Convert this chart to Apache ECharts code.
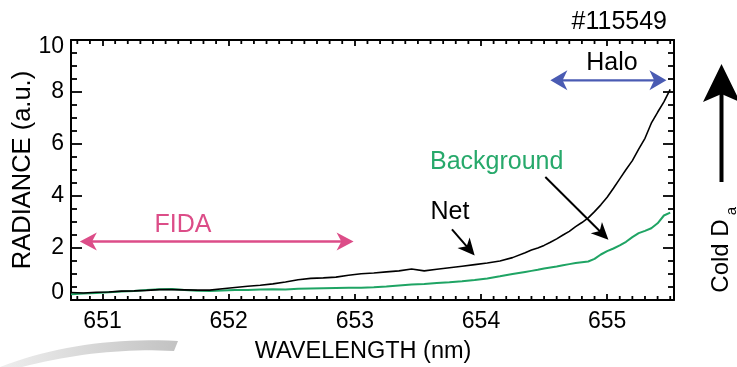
<!DOCTYPE html>
<html>
<head>
<meta charset="utf-8">
<script src="https://cdn.jsdelivr.net/npm/echarts@6/dist/echarts.min.js"></script>
<style>
  html, body { margin: 0; padding: 0; background: #fff; }
  #chart { width: 737px; height: 367px; }
</style>
</head>
<body>
<div id="chart"></div>
<script>
// Spectral grid (nm): 0.1 nm steps in the flat part, 0.05 nm near the cold D-alpha edge
const wavelength = [
  650.75, 650.85, 650.95, 651.05, 651.15, 651.25, 651.35, 651.45, 651.55, 651.65,
  651.75, 651.85, 651.95, 652.05, 652.15, 652.25, 652.35, 652.45, 652.55, 652.65,
  652.75, 652.85, 652.95, 653.05, 653.15, 653.25, 653.35, 653.45, 653.55, 653.65,
  653.75, 653.85, 653.95, 654.05, 654.15, 654.25, 654.35,
  654.40, 654.45, 654.50, 654.55, 654.60, 654.65, 654.70, 654.75, 654.80, 654.85,
  654.90, 654.95, 655.00, 655.05, 655.10, 655.15, 655.20, 655.25, 655.30, 655.35,
  655.40, 655.45, 655.50
];

// Net radiance (a.u.)
const netRadiance = [
  0.29, 0.27, 0.30, 0.31, 0.34, 0.35, 0.37, 0.40, 0.40, 0.39,
  0.38, 0.38, 0.43, 0.48, 0.53, 0.57, 0.62, 0.69, 0.78, 0.83,
  0.85, 0.88, 0.95, 1.01, 1.04, 1.08, 1.12, 1.19, 1.12, 1.18,
  1.24, 1.30, 1.36, 1.42, 1.50, 1.63, 1.82,
  1.92, 2.00, 2.10, 2.22, 2.35, 2.50, 2.64, 2.82, 2.98, 3.16,
  3.40, 3.66, 3.95, 4.30, 4.66, 5.02, 5.36, 5.80, 6.22, 6.80,
  7.22, 7.62, 8.10
];

// Background radiance (a.u.)
const backgroundRadiance = [
  0.22, 0.25, 0.27, 0.30, 0.33, 0.35, 0.38, 0.41, 0.42, 0.38,
  0.36, 0.35, 0.37, 0.38, 0.38, 0.40, 0.41, 0.40, 0.43, 0.44,
  0.45, 0.46, 0.47, 0.47, 0.49, 0.52, 0.56, 0.60, 0.62, 0.65,
  0.68, 0.72, 0.77, 0.83, 0.91, 1.00, 1.08,
  1.12, 1.16, 1.21, 1.25, 1.29, 1.34, 1.38, 1.42, 1.45, 1.48,
  1.58, 1.75, 1.88, 1.98, 2.10, 2.24, 2.42, 2.57, 2.66, 2.76,
  2.95, 3.25, 3.36
];

// Axis ranges and tick labels
const xRange = [650.75, 655.53];
const xMajorTicks = [651, 652, 653, 654, 655];
const yRange = [0, 10];
const yTickStep = 2;

// Spectral regions and pointer arrows, in data coordinates [nm, a.u.] (arrow tips)
const fidaSpan = [[650.82, 2.25], [652.99, 2.25]];
const haloSpan = [[654.55, 8.45], [655.47, 8.45]];
const netPointer = [[653.77, 2.72], [653.95, 1.71]];
const backgroundPointer = [[654.51, 4.73], [655.01, 2.32]];

// 0.1 nm minor tick positions along the wavelength axis
const xMinorTicks = [];
for (let i = 6508; i <= 6555; i++) {
  if (i % 10 !== 0) xMinorTicks.push(i / 10);
}

const FONT = '"Liberation Sans", Arial, Helvetica, sans-serif';
const INK = '#000';
const GREEN = '#1fa464';
const GREEN_TEXT = '#27a96b';
const PINK = '#dc4d88';
const BLUE = '#4a5bb3';
const TICK_WIDTH = 1.8;

function pairs(xs, ys) {
  return xs.map((x, i) => [x, ys[i]]);
}

function xAxisSide(position, withLabels) {
  return {
    type: 'value', position, min: xRange[0], max: xRange[1],
    axisLine: { show: true, onZero: false, lineStyle: { color: INK, width: 2 } },
    axisTick: { show: true, inside: true, length: 6, customValues: xMajorTicks,
                lineStyle: { color: INK, width: TICK_WIDTH } },
    axisLabel: withLabels
      ? { show: true, customValues: xMajorTicks, margin: 10, color: INK, fontSize: 23, fontFamily: FONT }
      : { show: false },
    splitLine: { show: false }
  };
}

function yAxisSide(position, withLabels) {
  return {
    type: 'value', position, min: yRange[0], max: yRange[1], interval: yTickStep,
    axisLine: { show: true, onZero: false, lineStyle: { color: INK, width: 2 } },
    axisTick: { show: true, inside: true, length: 11, lineStyle: { color: INK, width: TICK_WIDTH } },
    minorTick: { show: true, splitNumber: 4, length: 6, lineStyle: { color: INK, width: TICK_WIDTH } },
    axisLabel: withLabels ? {
      show: true, margin: 7, color: INK, fontSize: 23, fontFamily: FONT,
      formatter: v => v === yRange[0] ? '{lo|' + v + '}' : (v === yRange[1] ? '{hi|' + v + '}' : String(v)),
      rich: {
        lo: { fontSize: 23, fontFamily: FONT, color: INK, padding: [0, 0, 14, 0] },
        hi: { fontSize: 23, fontFamily: FONT, color: INK, padding: [14, 0, 0, 0] }
      }
    } : { show: false },
    splitLine: { show: false }
  };
}

// Light crescent in the lower-left corner
function crescent() {
  const q = (p0, p1, p2, t) => [
    (1 - t) * (1 - t) * p0[0] + 2 * (1 - t) * t * p1[0] + t * t * p2[0],
    (1 - t) * (1 - t) * p0[1] + 2 * (1 - t) * t * p1[1] + t * t * p2[1]
  ];
  const pts = [];
  for (let k = 0; k <= 20; k++) pts.push(q([0, 367], [80, 336], [178, 341], k / 20));
  for (let k = 0; k <= 20; k++) pts.push(q([174, 351], [100, 347], [22, 367], k / 20));
  return pts;
}

const chart = echarts.init(document.getElementById('chart'), null, { renderer: 'canvas' });

chart.setOption({
  animation: false,
  backgroundColor: '#fff',
  grid: { left: 71, right: 63, top: 40, bottom: 67, containLabel: false },
  xAxis: [xAxisSide('bottom', true), xAxisSide('top', false)],
  yAxis: [yAxisSide('left', true), yAxisSide('right', false)],
  series: [
    {
      name: 'Background', type: 'line', xAxisIndex: 0, yAxisIndex: 0,
      data: pairs(wavelength, backgroundRadiance),
      showSymbol: false, clip: true,
      lineStyle: { color: GREEN, width: 2 }
    },
    {
      name: 'Net', type: 'line', xAxisIndex: 0, yAxisIndex: 0,
      data: pairs(wavelength, netRadiance),
      showSymbol: false, clip: true,
      lineStyle: { color: INK, width: 1.6 }
    }
  ]
});

// Pixel position of a data point through the chart's own coordinate system
function toPx(p) {
  return chart.convertToPixel({ xAxisIndex: 0, yAxisIndex: 0 }, p);
}

// 0.1 nm minor ticks on the bottom and top frame edges
function minorTickMarks() {
  const out = [];
  xMinorTicks.forEach(v => {
    const b = toPx([v, yRange[0]]);
    const t = toPx([v, yRange[1]]);
    out.push({ type: 'line', z: 5, shape: { x1: b[0], y1: b[1], x2: b[0], y2: b[1] - 4 },
               style: { stroke: INK, lineWidth: TICK_WIDTH } });
    out.push({ type: 'line', z: 5, shape: { x1: t[0], y1: t[1], x2: t[0], y2: t[1] + 4 },
               style: { stroke: INK, lineWidth: TICK_WIDTH } });
  });
  return out;
}

function head(tip, ux, uy, len, half, color) {
  const nx = -uy, ny = ux;
  return {
    type: 'polygon', z: 10,
    shape: { points: [
      [tip[0], tip[1]],
      [tip[0] - ux * len + nx * half, tip[1] - uy * len + ny * half],
      [tip[0] - ux * len * 0.72, tip[1] - uy * len * 0.72],
      [tip[0] - ux * len - nx * half, tip[1] - uy * len - ny * half]
    ] },
    style: { fill: color }
  };
}
function arrow(from, to, color, width, len, half, both) {
  const a = toPx(from), b = toPx(to);
  const dx = b[0] - a[0], dy = b[1] - a[1];
  const d = Math.hypot(dx, dy), ux = dx / d, uy = dy / d;
  const inset = len * 0.6;
  const start = both ? [a[0] + ux * inset, a[1] + uy * inset] : a;
  const end = [b[0] - ux * inset, b[1] - uy * inset];
  const out = [{
    type: 'line', z: 9,
    shape: { x1: start[0], y1: start[1], x2: end[0], y2: end[1] },
    style: { stroke: color, lineWidth: width }
  }, head(b, ux, uy, len, half, color)];
  if (both) out.push(head(a, -ux, -uy, len, half, color));
  return out;
}

const textStyle = (text, size, fill, align) =>
  ({ text, fontSize: size, fontFamily: FONT, fill, align: align || 'center', verticalAlign: 'middle' });

chart.setOption({
  graphic: [].concat(
    [{ type: 'polygon', z: -1, shape: { points: crescent() },
       style: { fill: new echarts.graphic.LinearGradient(0, 0, 1, 0, [
         { offset: 0, color: '#eeeeee' }, { offset: 1, color: '#c2c2c2' }]) } }],
    minorTickMarks(),
    arrow(fidaSpan[0], fidaSpan[1], PINK, 2.5, 17, 9, true),
    arrow(haloSpan[0], haloSpan[1], BLUE, 2.2, 17, 10, true),
    arrow(netPointer[0], netPointer[1], INK, 2, 17, 8, false),
    arrow(backgroundPointer[0], backgroundPointer[1], INK, 2, 17, 8, false),
    [
      { type: 'text', x: 667, y: 22, style: textStyle('#115549', 25, INK, 'right') },
      { type: 'text', x: 612, y: 63, style: textStyle('Halo', 25, INK) },
      { type: 'text', x: 183, y: 225, style: textStyle('FIDA', 25, PINK) },
      { type: 'text', x: 430, y: 162, style: textStyle('Background', 25, GREEN_TEXT, 'left') },
      { type: 'text', x: 450, y: 212, style: textStyle('Net', 25, INK) },
      { type: 'text', x: 363, y: 352, style: textStyle('WAVELENGTH (nm)', 23.5, INK) },
      { type: 'text', x: 23, y: 170, rotation: Math.PI / 2, style: textStyle('RADIANCE (a.u.)', 25.5, INK) },
      // Cold D-alpha marker on the right margin
      { type: 'polygon', shape: { points: [[721.5, 64], [740, 102], [721.5, 94], [703, 102]] },
        style: { fill: INK } },
      { type: 'rect', shape: { x: 719.5, y: 93, width: 4, height: 89 }, style: { fill: INK } },
      { type: 'text', x: 721, y: 256, rotation: Math.PI / 2, style: textStyle('Cold D', 24, INK) },
      { type: 'text', x: 732, y: 211, rotation: Math.PI / 2, style: textStyle('a', 15, INK) }
    ]
  )
});
</script>
</body>
</html>
